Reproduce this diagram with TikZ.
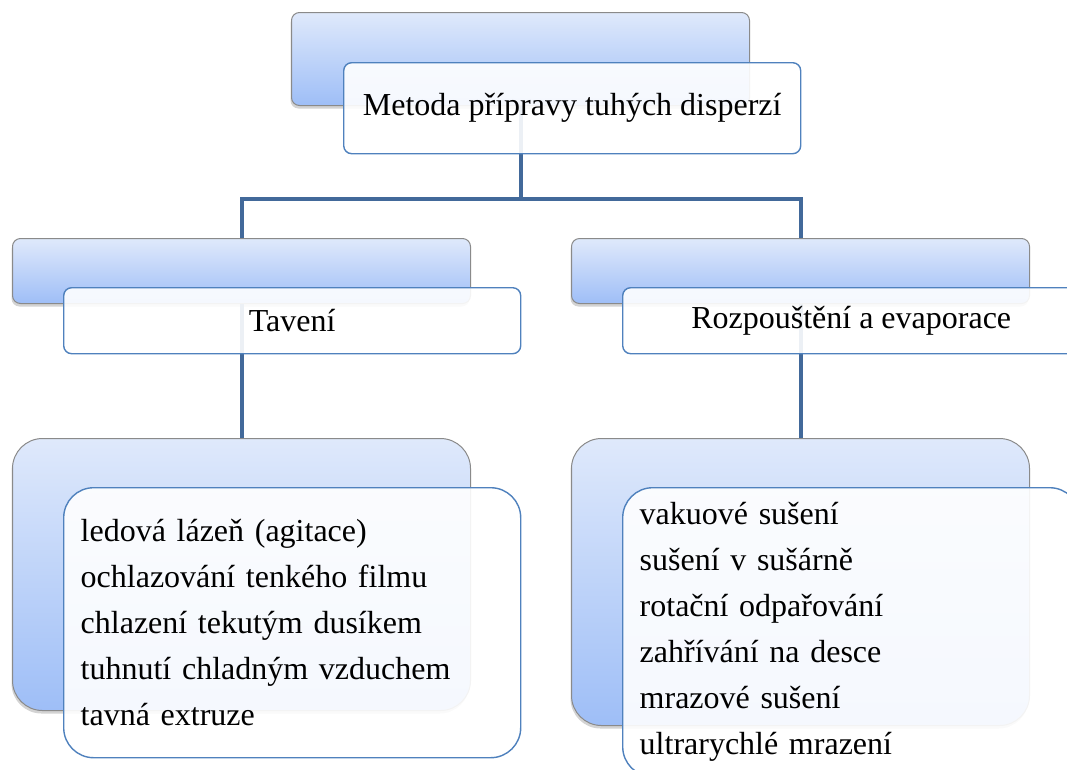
\documentclass[tikz,border=0pt]{standalone}
\usepackage{fontspec}
\setmainfont{Liberation Serif}
\usetikzlibrary{shadows}
\definecolor{topfill}{HTML}{DFE9FB}
\definecolor{botfill}{HTML}{9EBEF7}
\definecolor{rim}{HTML}{8A8A8A}
\definecolor{edge}{HTML}{4F81BD}
\definecolor{link}{HTML}{42699A}

\begin{document}
\begin{tikzpicture}[x=1pt,y=-1pt,
  back/.style={draw=rim,line width=1pt,top color=topfill,bottom color=botfill,
    rounded corners=8pt,minimum width=458pt,anchor=north west,inner sep=0pt,
    drop shadow={shadow xshift=-1pt,shadow yshift=-3pt,opacity=.35}},
  front/.style={draw=edge,line width=1.4pt,fill=white,fill opacity=.9,text opacity=1,
    rounded corners=8pt,minimum width=457pt,anchor=north west,
    font=\fontsize{32}{46}\selectfont},
  link/.style={draw=link,line width=4pt}]
\useasboundingbox (0,0) rectangle (1067,769);
\node[back,minimum height=93pt] (topback) at (291,12) {};
\node[back,minimum height=65pt] (lback) at (12,238) {};
\node[back,minimum height=65pt] (rback) at (571,238) {};
\node[back,minimum height=272pt,rounded corners=30pt] (lbotback) at (12,438) {};
\node[back,minimum height=287pt,rounded corners=30pt] (rbotback) at (571,438) {};
\draw[link] (topback.south) -- ++(0,93) coordinate (fork);
\draw[link] (fork) -| (lback.north);
\draw[link] (fork) -| (rback.north);
\draw[link] (lback.south) -- (lbotback.north);
\draw[link] (rback.south) -- (rbotback.north);
\node[front,minimum height=91pt] (top) at (343,62) {Metoda přípravy tuhých disperzí};
\node[front,minimum height=66pt] (tav) at (63,287) {Tavení};
\node[front,minimum height=66pt] (rozp) at (622,287) {Rozpouštění a evaporace};
\node[front,minimum height=270pt,rounded corners=30pt,text width=423pt,align=left] (tavlist) at (63,487)
  {ledová lázeň (agitace)\\ochlazování tenkého filmu\\chlazení tekutým dusíkem\\tuhnutí chladným vzduchem\\tavná extruze};
\node[front,minimum height=289pt,rounded corners=30pt,text width=423pt,align=left] (rozplist) at (622,487)
  {vakuové sušení\\sušení v sušárně\\rotační odpařování\\zahřívání na desce\\mrazové sušení\\ultrarychlé mrazení};
\end{tikzpicture}
\end{document}
